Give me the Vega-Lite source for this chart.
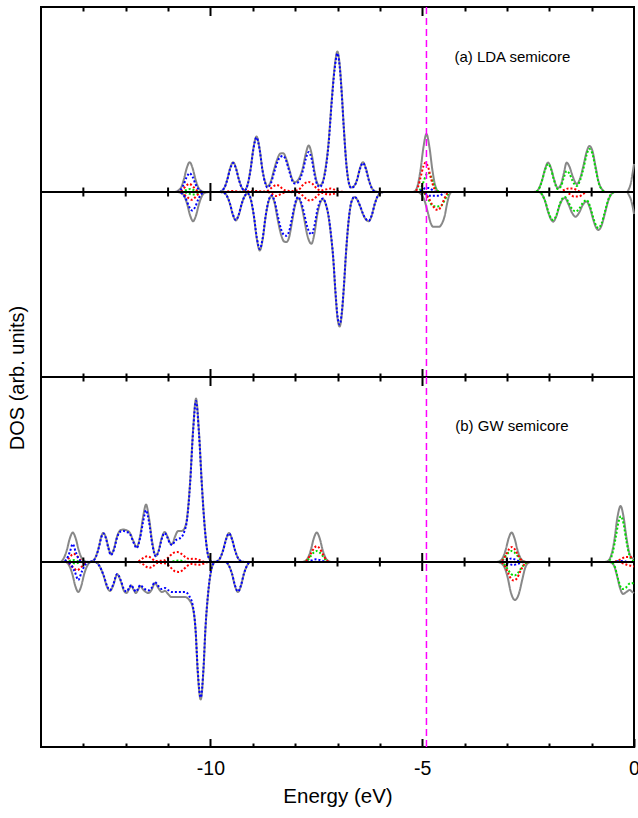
{
"$schema": "https://vega.github.io/schema/vega-lite/v6.json",
"padding": {"left": 7, "top": 5, "right": 2, "bottom": 4},
"background": "white",
"bounds": "flush",
"spacing": 0,
"config": {
  "view": {"stroke": "black", "strokeWidth": 2},
  "font": "Liberation Sans",
  "axis": {"grid": false, "domain": false, "tickColor": "black", "tickWidth": 2, "labelFont": "Liberation Sans", "titleFont": "Liberation Sans", "labelColor": "black", "titleColor": "black", "titleFontWeight": "normal"}
},
"datasets": {
"ticks": [{"e":-13},{"e":-12},{"e":-11},{"e":-10},{"e":-9},{"e":-8},{"e":-7},{"e":-6},{"e":-5},{"e":-4},{"e":-3},{"e":-2},{"e":-1}],
"a": [
{"s":"T","d":"u","e":-14,"v":0},{"s":"T","d":"u","e":-10.85,"v":0},{"s":"T","d":"u","e":-10.7,"v":4},{"s":"T","d":"u","e":-10.63,"v":12.2},{"s":"T","d":"u","e":-10.56,"v":23.8},{"s":"T","d":"u","e":-10.49,"v":29.8},{"s":"T","d":"u","e":-10.42,"v":23.8},{"s":"T","d":"u","e":-10.35,"v":12.2},{"s":"T","d":"u","e":-10.28,"v":4},{"s":"T","d":"u","e":-10.15,"v":0},
{"s":"T","d":"u","e":-9.8,"v":0},{"s":"T","d":"u","e":-9.675,"v":4},{"s":"T","d":"u","e":-9.605,"v":12.2},{"s":"T","d":"u","e":-9.535,"v":23.8},{"s":"T","d":"u","e":-9.465,"v":29.8},{"s":"T","d":"u","e":-9.395,"v":23.8},{"s":"T","d":"u","e":-9.325,"v":12.2},{"s":"T","d":"u","e":-9.255,"v":4},{"s":"T","d":"u","e":-9.19,"v":1.8},{"s":"T","d":"u","e":-9.123,"v":7.5},{"s":"T","d":"u","e":-9.053,"v":22.8},{"s":"T","d":"u","e":-8.983,"v":44.4},{"s":"T","d":"u","e":-8.913,"v":55.5},{"s":"T","d":"u","e":-8.843,"v":44.4},{"s":"T","d":"u","e":-8.773,"v":22.8},{"s":"T","d":"u","e":-8.7,"v":9},{"s":"T","d":"u","e":-8.66,"v":5.5},{"s":"T","d":"u","e":-8.57,"v":11},{"s":"T","d":"u","e":-8.5,"v":22},{"s":"T","d":"u","e":-8.42,"v":33},{"s":"T","d":"u","e":-8.35,"v":38.5},{"s":"T","d":"u","e":-8.28,"v":38.8},{"s":"T","d":"u","e":-8.21,"v":33},{"s":"T","d":"u","e":-8.14,"v":23},{"s":"T","d":"u","e":-8.06,"v":12},{"s":"T","d":"u","e":-8.01,"v":9.8},{"s":"T","d":"u","e":-7.95,"v":11},{"s":"T","d":"u","e":-7.89,"v":15},{"s":"T","d":"u","e":-7.82,"v":24},{"s":"T","d":"u","e":-7.75,"v":38},{"s":"T","d":"u","e":-7.68,"v":46.5},{"s":"T","d":"u","e":-7.61,"v":38},{"s":"T","d":"u","e":-7.54,"v":20},{"s":"T","d":"u","e":-7.48,"v":9},{"s":"T","d":"u","e":-7.42,"v":6.5},{"s":"T","d":"u","e":-7.36,"v":9},{"s":"T","d":"u","e":-7.29,"v":22},{"s":"T","d":"u","e":-7.21,"v":50},{"s":"T","d":"u","e":-7.14,"v":90},{"s":"T","d":"u","e":-7.07,"v":124},{"s":"T","d":"u","e":-7.003,"v":140.5},{"s":"T","d":"u","e":-6.95,"v":128},{"s":"T","d":"u","e":-6.9,"v":100},{"s":"T","d":"u","e":-6.85,"v":64},{"s":"T","d":"u","e":-6.79,"v":28},{"s":"T","d":"u","e":-6.73,"v":9},{"s":"T","d":"u","e":-6.68,"v":4.5},{"s":"T","d":"u","e":-6.61,"v":6},{"s":"T","d":"u","e":-6.54,"v":12.2},{"s":"T","d":"u","e":-6.47,"v":23.8},{"s":"T","d":"u","e":-6.4,"v":29.8},{"s":"T","d":"u","e":-6.33,"v":23.8},{"s":"T","d":"u","e":-6.26,"v":12.2},{"s":"T","d":"u","e":-6.19,"v":4},{"s":"T","d":"u","e":-6.1,"v":0.5},{"s":"T","d":"u","e":-6.0,"v":0},
{"s":"T","d":"u","e":-5.25,"v":0},{"s":"T","d":"u","e":-5.18,"v":0.5},{"s":"T","d":"u","e":-5.1,"v":7.8},{"s":"T","d":"u","e":-5.04,"v":22},{"s":"T","d":"u","e":-4.97,"v":45},{"s":"T","d":"u","e":-4.9,"v":58},{"s":"T","d":"u","e":-4.83,"v":45},{"s":"T","d":"u","e":-4.76,"v":22},{"s":"T","d":"u","e":-4.7,"v":7.8},{"s":"T","d":"u","e":-4.62,"v":0.5},{"s":"T","d":"u","e":-4.55,"v":0},
{"s":"T","d":"u","e":-2.4,"v":0},{"s":"T","d":"u","e":-2.3,"v":0.5},{"s":"T","d":"u","e":-2.24,"v":4},{"s":"T","d":"u","e":-2.17,"v":12},{"s":"T","d":"u","e":-2.1,"v":23},{"s":"T","d":"u","e":-2.03,"v":29.4},{"s":"T","d":"u","e":-1.96,"v":24},{"s":"T","d":"u","e":-1.89,"v":13},{"s":"T","d":"u","e":-1.8,"v":4},{"s":"T","d":"u","e":-1.72,"v":8},{"s":"T","d":"u","e":-1.66,"v":18},{"s":"T","d":"u","e":-1.59,"v":29.4},{"s":"T","d":"u","e":-1.52,"v":25},{"s":"T","d":"u","e":-1.45,"v":16},{"s":"T","d":"u","e":-1.35,"v":8},{"s":"T","d":"u","e":-1.27,"v":14},{"s":"T","d":"u","e":-1.19,"v":27},{"s":"T","d":"u","e":-1.12,"v":40},{"s":"T","d":"u","e":-1.05,"v":46},{"s":"T","d":"u","e":-0.98,"v":41},{"s":"T","d":"u","e":-0.91,"v":26},{"s":"T","d":"u","e":-0.84,"v":11},{"s":"T","d":"u","e":-0.76,"v":3},{"s":"T","d":"u","e":-0.66,"v":0},{"s":"T","d":"u","e":-0.17,"v":0},{"s":"T","d":"u","e":-0.12,"v":3},{"s":"T","d":"u","e":-0.08,"v":8},{"s":"T","d":"u","e":-0.04,"v":17},{"s":"T","d":"u","e":0,"v":28},
{"s":"T","d":"d","e":-14,"v":0},{"s":"T","d":"d","e":-10.8,"v":0},{"s":"T","d":"d","e":-10.71,"v":-0.5},{"s":"T","d":"d","e":-10.62,"v":-4},{"s":"T","d":"d","e":-10.55,"v":-12},{"s":"T","d":"d","e":-10.48,"v":-23.4},{"s":"T","d":"d","e":-10.41,"v":-29.2},{"s":"T","d":"d","e":-10.34,"v":-23.4},{"s":"T","d":"d","e":-10.27,"v":-12},{"s":"T","d":"d","e":-10.2,"v":-4},{"s":"T","d":"d","e":-10.11,"v":-0.5},{"s":"T","d":"d","e":-10.0,"v":0},
{"s":"T","d":"d","e":-9.78,"v":0},{"s":"T","d":"d","e":-9.7,"v":-0.5},{"s":"T","d":"d","e":-9.61,"v":-4},{"s":"T","d":"d","e":-9.54,"v":-11.7},{"s":"T","d":"d","e":-9.47,"v":-22.8},{"s":"T","d":"d","e":-9.4,"v":-28.5},{"s":"T","d":"d","e":-9.33,"v":-22.8},{"s":"T","d":"d","e":-9.26,"v":-11.7},{"s":"T","d":"d","e":-9.19,"v":-4},{"s":"T","d":"d","e":-9.12,"v":-1.5},{"s":"T","d":"d","e":-9.045,"v":-7.9},{"s":"T","d":"d","e":-8.975,"v":-24},{"s":"T","d":"d","e":-8.905,"v":-46.8},{"s":"T","d":"d","e":-8.835,"v":-58.5},{"s":"T","d":"d","e":-8.765,"v":-46.8},{"s":"T","d":"d","e":-8.695,"v":-24},{"s":"T","d":"d","e":-8.625,"v":-9},{"s":"T","d":"d","e":-8.56,"v":-4},{"s":"T","d":"d","e":-8.48,"v":-12},{"s":"T","d":"d","e":-8.41,"v":-28},{"s":"T","d":"d","e":-8.33,"v":-43},{"s":"T","d":"d","e":-8.26,"v":-49.5},{"s":"T","d":"d","e":-8.205,"v":-50},{"s":"T","d":"d","e":-8.14,"v":-45},{"s":"T","d":"d","e":-8.07,"v":-29},{"s":"T","d":"d","e":-8.0,"v":-13},{"s":"T","d":"d","e":-7.93,"v":-6},{"s":"T","d":"d","e":-7.86,"v":-12},{"s":"T","d":"d","e":-7.79,"v":-26},{"s":"T","d":"d","e":-7.72,"v":-42},{"s":"T","d":"d","e":-7.615,"v":-51.8},{"s":"T","d":"d","e":-7.545,"v":-41.5},{"s":"T","d":"d","e":-7.475,"v":-22},{"s":"T","d":"d","e":-7.4,"v":-10},{"s":"T","d":"d","e":-7.34,"v":-7},{"s":"T","d":"d","e":-7.28,"v":-12},{"s":"T","d":"d","e":-7.21,"v":-25},{"s":"T","d":"d","e":-7.15,"v":-45},{"s":"T","d":"d","e":-7.1,"v":-67},{"s":"T","d":"d","e":-7.05,"v":-100},{"s":"T","d":"d","e":-7.0,"v":-126},{"s":"T","d":"d","e":-6.95,"v":-134.5},{"s":"T","d":"d","e":-6.9,"v":-123},{"s":"T","d":"d","e":-6.85,"v":-96},{"s":"T","d":"d","e":-6.8,"v":-62},{"s":"T","d":"d","e":-6.74,"v":-30},{"s":"T","d":"d","e":-6.67,"v":-10},{"s":"T","d":"d","e":-6.595,"v":-5},{"s":"T","d":"d","e":-6.53,"v":-8},{"s":"T","d":"d","e":-6.46,"v":-15},{"s":"T","d":"d","e":-6.39,"v":-23},{"s":"T","d":"d","e":-6.32,"v":-28},{"s":"T","d":"d","e":-6.26,"v":-29.2},{"s":"T","d":"d","e":-6.19,"v":-23.4},{"s":"T","d":"d","e":-6.12,"v":-12},{"s":"T","d":"d","e":-6.05,"v":-4},{"s":"T","d":"d","e":-5.98,"v":-1},{"s":"T","d":"d","e":-5.9,"v":0},
{"s":"T","d":"d","e":-5.1,"v":0},{"s":"T","d":"d","e":-5.03,"v":-2},{"s":"T","d":"d","e":-4.95,"v":-8},{"s":"T","d":"d","e":-4.87,"v":-20},{"s":"T","d":"d","e":-4.8,"v":-31},{"s":"T","d":"d","e":-4.74,"v":-34.8},{"s":"T","d":"d","e":-4.6,"v":-34.8},{"s":"T","d":"d","e":-4.54,"v":-32},{"s":"T","d":"d","e":-4.47,"v":-24},{"s":"T","d":"d","e":-4.41,"v":-11},{"s":"T","d":"d","e":-4.36,"v":-3},{"s":"T","d":"d","e":-4.3,"v":0},
{"s":"T","d":"d","e":-2.25,"v":0},{"s":"T","d":"d","e":-2.18,"v":-2},{"s":"T","d":"d","e":-2.1,"v":-9},{"s":"T","d":"d","e":-2.02,"v":-21},{"s":"T","d":"d","e":-1.95,"v":-28},{"s":"T","d":"d","e":-1.91,"v":-29.7},{"s":"T","d":"d","e":-1.84,"v":-25},{"s":"T","d":"d","e":-1.76,"v":-14},{"s":"T","d":"d","e":-1.68,"v":-7},{"s":"T","d":"d","e":-1.63,"v":-6},{"s":"T","d":"d","e":-1.55,"v":-12},{"s":"T","d":"d","e":-1.46,"v":-21},{"s":"T","d":"d","e":-1.38,"v":-24.7},{"s":"T","d":"d","e":-1.3,"v":-21},{"s":"T","d":"d","e":-1.21,"v":-13},{"s":"T","d":"d","e":-1.12,"v":-9.5},{"s":"T","d":"d","e":-1.04,"v":-16},{"s":"T","d":"d","e":-0.96,"v":-28},{"s":"T","d":"d","e":-0.89,"v":-36},{"s":"T","d":"d","e":-0.84,"v":-38},{"s":"T","d":"d","e":-0.77,"v":-34},{"s":"T","d":"d","e":-0.69,"v":-22},{"s":"T","d":"d","e":-0.61,"v":-9},{"s":"T","d":"d","e":-0.53,"v":-2},{"s":"T","d":"d","e":-0.45,"v":0},{"s":"T","d":"d","e":-0.17,"v":0},{"s":"T","d":"d","e":-0.12,"v":-3},{"s":"T","d":"d","e":-0.07,"v":-8},{"s":"T","d":"d","e":-0.03,"v":-15},{"s":"T","d":"d","e":0,"v":-22},
{"s":"G","d":"u","e":-14,"v":0},{"s":"G","d":"u","e":-10.72,"v":0},{"s":"G","d":"u","e":-10.6,"v":1.5},{"s":"G","d":"u","e":-10.48,"v":3},{"s":"G","d":"u","e":-10.36,"v":1.5},{"s":"G","d":"u","e":-10.24,"v":0},{"s":"G","d":"u","e":-5.12,"v":0},{"s":"G","d":"u","e":-5.04,"v":3},{"s":"G","d":"u","e":-4.97,"v":10},{"s":"G","d":"u","e":-4.91,"v":17},{"s":"G","d":"u","e":-4.86,"v":19.3},{"s":"G","d":"u","e":-4.8,"v":16},{"s":"G","d":"u","e":-4.73,"v":8},{"s":"G","d":"u","e":-4.66,"v":2},{"s":"G","d":"u","e":-4.58,"v":0},
{"s":"G","d":"u","e":-2.35,"v":0},{"s":"G","d":"u","e":-2.26,"v":2},{"s":"G","d":"u","e":-2.18,"v":10},{"s":"G","d":"u","e":-2.1,"v":22},{"s":"G","d":"u","e":-2.03,"v":28},{"s":"G","d":"u","e":-1.96,"v":23},{"s":"G","d":"u","e":-1.89,"v":12},{"s":"G","d":"u","e":-1.8,"v":3},{"s":"G","d":"u","e":-1.72,"v":6},{"s":"G","d":"u","e":-1.66,"v":14},{"s":"G","d":"u","e":-1.59,"v":21},{"s":"G","d":"u","e":-1.52,"v":18},{"s":"G","d":"u","e":-1.45,"v":11},{"s":"G","d":"u","e":-1.35,"v":6},{"s":"G","d":"u","e":-1.27,"v":12},{"s":"G","d":"u","e":-1.19,"v":24},{"s":"G","d":"u","e":-1.12,"v":37},{"s":"G","d":"u","e":-1.05,"v":43},{"s":"G","d":"u","e":-0.98,"v":38},{"s":"G","d":"u","e":-0.91,"v":24},{"s":"G","d":"u","e":-0.84,"v":10},{"s":"G","d":"u","e":-0.76,"v":2.5},{"s":"G","d":"u","e":-0.66,"v":0},{"s":"G","d":"u","e":0,"v":0},
{"s":"G","d":"d","e":-14,"v":0},{"s":"G","d":"d","e":-10.65,"v":0},{"s":"G","d":"d","e":-10.52,"v":-1.5},{"s":"G","d":"d","e":-10.42,"v":-2.5},{"s":"G","d":"d","e":-10.32,"v":-1.5},{"s":"G","d":"d","e":-10.2,"v":0},{"s":"G","d":"d","e":-5.0,"v":0},{"s":"G","d":"d","e":-4.92,"v":-3},{"s":"G","d":"d","e":-4.84,"v":-8.5},{"s":"G","d":"d","e":-4.76,"v":-13.5},{"s":"G","d":"d","e":-4.66,"v":-14.5},{"s":"G","d":"d","e":-4.56,"v":-14},{"s":"G","d":"d","e":-4.48,"v":-9},{"s":"G","d":"d","e":-4.41,"v":-3.5},{"s":"G","d":"d","e":-4.34,"v":0},
{"s":"G","d":"d","e":-2.25,"v":0},{"s":"G","d":"d","e":-2.18,"v":-2},{"s":"G","d":"d","e":-2.1,"v":-9},{"s":"G","d":"d","e":-2.02,"v":-20},{"s":"G","d":"d","e":-1.95,"v":-27},{"s":"G","d":"d","e":-1.91,"v":-28},{"s":"G","d":"d","e":-1.84,"v":-24},{"s":"G","d":"d","e":-1.76,"v":-13},{"s":"G","d":"d","e":-1.68,"v":-6},{"s":"G","d":"d","e":-1.63,"v":-5},{"s":"G","d":"d","e":-1.55,"v":-10},{"s":"G","d":"d","e":-1.46,"v":-17},{"s":"G","d":"d","e":-1.38,"v":-19.5},{"s":"G","d":"d","e":-1.3,"v":-17},{"s":"G","d":"d","e":-1.21,"v":-11},{"s":"G","d":"d","e":-1.12,"v":-8},{"s":"G","d":"d","e":-1.04,"v":-14},{"s":"G","d":"d","e":-0.96,"v":-26},{"s":"G","d":"d","e":-0.89,"v":-34},{"s":"G","d":"d","e":-0.84,"v":-36},{"s":"G","d":"d","e":-0.77,"v":-32},{"s":"G","d":"d","e":-0.69,"v":-20},{"s":"G","d":"d","e":-0.61,"v":-8},{"s":"G","d":"d","e":-0.53,"v":-1.5},{"s":"G","d":"d","e":-0.45,"v":0},{"s":"G","d":"d","e":0,"v":0},
{"s":"R","d":"u","e":-14,"v":0},{"s":"R","d":"u","e":-10.78,"v":0},{"s":"R","d":"u","e":-10.68,"v":1.5},{"s":"R","d":"u","e":-10.6,"v":5},{"s":"R","d":"u","e":-10.5,"v":8.2},{"s":"R","d":"u","e":-10.4,"v":5},{"s":"R","d":"u","e":-10.32,"v":1.5},{"s":"R","d":"u","e":-10.22,"v":0},{"s":"R","d":"u","e":-9.7,"v":0},{"s":"R","d":"u","e":-9.5,"v":1},{"s":"R","d":"u","e":-9.3,"v":0.3},{"s":"R","d":"u","e":-8.95,"v":1},{"s":"R","d":"u","e":-8.7,"v":0.5},{"s":"R","d":"u","e":-8.62,"v":2},{"s":"R","d":"u","e":-8.52,"v":5.5},{"s":"R","d":"u","e":-8.44,"v":7},{"s":"R","d":"u","e":-8.36,"v":5.5},{"s":"R","d":"u","e":-8.26,"v":2},{"s":"R","d":"u","e":-8.1,"v":1},{"s":"R","d":"u","e":-7.92,"v":2},{"s":"R","d":"u","e":-7.84,"v":6},{"s":"R","d":"u","e":-7.76,"v":9},{"s":"R","d":"u","e":-7.68,"v":10},{"s":"R","d":"u","e":-7.6,"v":8.5},{"s":"R","d":"u","e":-7.5,"v":4},{"s":"R","d":"u","e":-7.4,"v":1.5},{"s":"R","d":"u","e":-7.28,"v":2.5},{"s":"R","d":"u","e":-7.16,"v":3.5},{"s":"R","d":"u","e":-7.05,"v":2},{"s":"R","d":"u","e":-6.95,"v":0.5},{"s":"R","d":"u","e":-6.8,"v":0},
{"s":"R","d":"u","e":-5.18,"v":0},{"s":"R","d":"u","e":-5.1,"v":5},{"s":"R","d":"u","e":-5.03,"v":16},{"s":"R","d":"u","e":-4.97,"v":26},{"s":"R","d":"u","e":-4.92,"v":29.4},{"s":"R","d":"u","e":-4.86,"v":25},{"s":"R","d":"u","e":-4.79,"v":13},{"s":"R","d":"u","e":-4.72,"v":4},{"s":"R","d":"u","e":-4.64,"v":0},{"s":"R","d":"u","e":-1.75,"v":0},{"s":"R","d":"u","e":-1.65,"v":2},{"s":"R","d":"u","e":-1.55,"v":3.5},{"s":"R","d":"u","e":-1.45,"v":3.5},{"s":"R","d":"u","e":-1.35,"v":2},{"s":"R","d":"u","e":-1.25,"v":0},{"s":"R","d":"u","e":0,"v":0},
{"s":"R","d":"d","e":-14,"v":0},{"s":"R","d":"d","e":-10.75,"v":0},{"s":"R","d":"d","e":-10.65,"v":-1.5},{"s":"R","d":"d","e":-10.55,"v":-5},{"s":"R","d":"d","e":-10.45,"v":-7.8},{"s":"R","d":"d","e":-10.35,"v":-5},{"s":"R","d":"d","e":-10.27,"v":-1.5},{"s":"R","d":"d","e":-10.17,"v":0},{"s":"R","d":"d","e":-8.65,"v":0},{"s":"R","d":"d","e":-8.55,"v":-2},{"s":"R","d":"d","e":-8.45,"v":-4},{"s":"R","d":"d","e":-8.33,"v":-2},{"s":"R","d":"d","e":-8.2,"v":0},{"s":"R","d":"d","e":-7.9,"v":-1},{"s":"R","d":"d","e":-7.8,"v":-4.5},{"s":"R","d":"d","e":-7.72,"v":-7.5},{"s":"R","d":"d","e":-7.64,"v":-8.5},{"s":"R","d":"d","e":-7.56,"v":-7},{"s":"R","d":"d","e":-7.46,"v":-3},{"s":"R","d":"d","e":-7.36,"v":-1},{"s":"R","d":"d","e":-7.22,"v":-2.5},{"s":"R","d":"d","e":-7.1,"v":-2},{"s":"R","d":"d","e":-6.98,"v":0},
{"s":"R","d":"d","e":-5.0,"v":0},{"s":"R","d":"d","e":-4.92,"v":-2},{"s":"R","d":"d","e":-4.84,"v":-6.5},{"s":"R","d":"d","e":-4.76,"v":-13},{"s":"R","d":"d","e":-4.68,"v":-17.5},{"s":"R","d":"d","e":-4.62,"v":-17.9},{"s":"R","d":"d","e":-4.55,"v":-14},{"s":"R","d":"d","e":-4.48,"v":-7},{"s":"R","d":"d","e":-4.42,"v":-2},{"s":"R","d":"d","e":-4.36,"v":0},{"s":"R","d":"d","e":-1.6,"v":0},{"s":"R","d":"d","e":-1.52,"v":-2},{"s":"R","d":"d","e":-1.42,"v":-4.4},{"s":"R","d":"d","e":-1.3,"v":-4.4},{"s":"R","d":"d","e":-1.2,"v":-2},{"s":"R","d":"d","e":-1.1,"v":0},{"s":"R","d":"d","e":0,"v":0},
{"s":"B","d":"u","e":-14,"v":0},{"s":"B","d":"u","e":-10.8,"v":0},{"s":"B","d":"u","e":-10.7,"v":2.5},{"s":"B","d":"u","e":-10.63,"v":7.7},{"s":"B","d":"u","e":-10.56,"v":15},{"s":"B","d":"u","e":-10.49,"v":18.8},{"s":"B","d":"u","e":-10.42,"v":15},{"s":"B","d":"u","e":-10.35,"v":7.7},{"s":"B","d":"u","e":-10.28,"v":2.5},{"s":"B","d":"u","e":-10.18,"v":0},
{"s":"B","d":"u","e":-9.8,"v":0},{"s":"B","d":"u","e":-9.675,"v":3.8},{"s":"B","d":"u","e":-9.605,"v":11.8},{"s":"B","d":"u","e":-9.535,"v":23},{"s":"B","d":"u","e":-9.465,"v":29},{"s":"B","d":"u","e":-9.395,"v":23},{"s":"B","d":"u","e":-9.325,"v":11.8},{"s":"B","d":"u","e":-9.255,"v":3.8},{"s":"B","d":"u","e":-9.19,"v":1.5},{"s":"B","d":"u","e":-9.123,"v":7},{"s":"B","d":"u","e":-9.053,"v":22},{"s":"B","d":"u","e":-8.983,"v":43.5},{"s":"B","d":"u","e":-8.913,"v":54.5},{"s":"B","d":"u","e":-8.843,"v":43.5},{"s":"B","d":"u","e":-8.773,"v":22},{"s":"B","d":"u","e":-8.7,"v":8},{"s":"B","d":"u","e":-8.66,"v":4.5},{"s":"B","d":"u","e":-8.57,"v":9},{"s":"B","d":"u","e":-8.5,"v":19},{"s":"B","d":"u","e":-8.42,"v":30},{"s":"B","d":"u","e":-8.35,"v":35},{"s":"B","d":"u","e":-8.28,"v":36},{"s":"B","d":"u","e":-8.21,"v":31},{"s":"B","d":"u","e":-8.14,"v":21},{"s":"B","d":"u","e":-8.06,"v":10.5},{"s":"B","d":"u","e":-8.01,"v":8.5},{"s":"B","d":"u","e":-7.95,"v":9},{"s":"B","d":"u","e":-7.89,"v":12.5},{"s":"B","d":"u","e":-7.82,"v":21},{"s":"B","d":"u","e":-7.75,"v":33},{"s":"B","d":"u","e":-7.68,"v":40},{"s":"B","d":"u","e":-7.61,"v":33},{"s":"B","d":"u","e":-7.54,"v":17},{"s":"B","d":"u","e":-7.48,"v":7.5},{"s":"B","d":"u","e":-7.42,"v":5},{"s":"B","d":"u","e":-7.36,"v":8},{"s":"B","d":"u","e":-7.29,"v":20},{"s":"B","d":"u","e":-7.21,"v":48},{"s":"B","d":"u","e":-7.14,"v":88},{"s":"B","d":"u","e":-7.07,"v":122},{"s":"B","d":"u","e":-7.003,"v":138.5},{"s":"B","d":"u","e":-6.95,"v":126},{"s":"B","d":"u","e":-6.9,"v":98},{"s":"B","d":"u","e":-6.85,"v":63},{"s":"B","d":"u","e":-6.79,"v":27},{"s":"B","d":"u","e":-6.73,"v":8.5},{"s":"B","d":"u","e":-6.68,"v":4},{"s":"B","d":"u","e":-6.61,"v":5.5},{"s":"B","d":"u","e":-6.54,"v":11.8},{"s":"B","d":"u","e":-6.47,"v":23},{"s":"B","d":"u","e":-6.4,"v":29},{"s":"B","d":"u","e":-6.33,"v":23},{"s":"B","d":"u","e":-6.26,"v":11.8},{"s":"B","d":"u","e":-6.19,"v":3.8},{"s":"B","d":"u","e":-6.1,"v":0.5},{"s":"B","d":"u","e":-6.0,"v":0},
{"s":"B","d":"u","e":-5.1,"v":0},{"s":"B","d":"u","e":-5.0,"v":2},{"s":"B","d":"u","e":-4.92,"v":4},{"s":"B","d":"u","e":-4.84,"v":4},{"s":"B","d":"u","e":-4.76,"v":2},{"s":"B","d":"u","e":-4.65,"v":0},{"s":"B","d":"u","e":0,"v":0},
{"s":"B","d":"d","e":-14,"v":0},{"s":"B","d":"d","e":-10.75,"v":0},{"s":"B","d":"d","e":-10.65,"v":-2.5},{"s":"B","d":"d","e":-10.57,"v":-7.6},{"s":"B","d":"d","e":-10.5,"v":-15},{"s":"B","d":"d","e":-10.43,"v":-18.5},{"s":"B","d":"d","e":-10.36,"v":-15},{"s":"B","d":"d","e":-10.29,"v":-7.6},{"s":"B","d":"d","e":-10.22,"v":-2.5},{"s":"B","d":"d","e":-10.12,"v":0},
{"s":"B","d":"d","e":-9.78,"v":0},{"s":"B","d":"d","e":-9.7,"v":-0.5},{"s":"B","d":"d","e":-9.61,"v":-4},{"s":"B","d":"d","e":-9.54,"v":-11.5},{"s":"B","d":"d","e":-9.47,"v":-22.4},{"s":"B","d":"d","e":-9.4,"v":-28},{"s":"B","d":"d","e":-9.33,"v":-22.4},{"s":"B","d":"d","e":-9.26,"v":-11.5},{"s":"B","d":"d","e":-9.19,"v":-4},{"s":"B","d":"d","e":-9.12,"v":-1.4},{"s":"B","d":"d","e":-9.045,"v":-7.6},{"s":"B","d":"d","e":-8.975,"v":-23.5},{"s":"B","d":"d","e":-8.905,"v":-45.8},{"s":"B","d":"d","e":-8.835,"v":-57},{"s":"B","d":"d","e":-8.765,"v":-45.8},{"s":"B","d":"d","e":-8.695,"v":-23.5},{"s":"B","d":"d","e":-8.625,"v":-8.5},{"s":"B","d":"d","e":-8.56,"v":-3.5},{"s":"B","d":"d","e":-8.48,"v":-10},{"s":"B","d":"d","e":-8.41,"v":-24},{"s":"B","d":"d","e":-8.33,"v":-37.5},{"s":"B","d":"d","e":-8.26,"v":-43},{"s":"B","d":"d","e":-8.205,"v":-43.8},{"s":"B","d":"d","e":-8.14,"v":-39},{"s":"B","d":"d","e":-8.07,"v":-25},{"s":"B","d":"d","e":-8.0,"v":-11},{"s":"B","d":"d","e":-7.93,"v":-5},{"s":"B","d":"d","e":-7.86,"v":-10},{"s":"B","d":"d","e":-7.79,"v":-21},{"s":"B","d":"d","e":-7.72,"v":-34},{"s":"B","d":"d","e":-7.615,"v":-42.5},{"s":"B","d":"d","e":-7.545,"v":-34},{"s":"B","d":"d","e":-7.475,"v":-18},{"s":"B","d":"d","e":-7.4,"v":-8.5},{"s":"B","d":"d","e":-7.34,"v":-6.5},{"s":"B","d":"d","e":-7.28,"v":-11.5},{"s":"B","d":"d","e":-7.21,"v":-24},{"s":"B","d":"d","e":-7.15,"v":-44},{"s":"B","d":"d","e":-7.1,"v":-66},{"s":"B","d":"d","e":-7.05,"v":-98.5},{"s":"B","d":"d","e":-7.0,"v":-124},{"s":"B","d":"d","e":-6.95,"v":-132.5},{"s":"B","d":"d","e":-6.9,"v":-121},{"s":"B","d":"d","e":-6.85,"v":-94.5},{"s":"B","d":"d","e":-6.8,"v":-61},{"s":"B","d":"d","e":-6.74,"v":-29.5},{"s":"B","d":"d","e":-6.67,"v":-9.5},{"s":"B","d":"d","e":-6.595,"v":-4.8},{"s":"B","d":"d","e":-6.53,"v":-7.8},{"s":"B","d":"d","e":-6.46,"v":-14.7},{"s":"B","d":"d","e":-6.39,"v":-22.6},{"s":"B","d":"d","e":-6.32,"v":-27.5},{"s":"B","d":"d","e":-6.26,"v":-28.7},{"s":"B","d":"d","e":-6.19,"v":-23},{"s":"B","d":"d","e":-6.12,"v":-11.8},{"s":"B","d":"d","e":-6.05,"v":-4},{"s":"B","d":"d","e":-5.98,"v":-1},{"s":"B","d":"d","e":-5.9,"v":0},
{"s":"B","d":"d","e":-5.0,"v":0},{"s":"B","d":"d","e":-4.92,"v":-2},{"s":"B","d":"d","e":-4.84,"v":-3.7},{"s":"B","d":"d","e":-4.6,"v":-3.7},{"s":"B","d":"d","e":-4.52,"v":-2},{"s":"B","d":"d","e":-4.45,"v":0},{"s":"B","d":"d","e":0,"v":0}
],
"b": [
{"s":"T","d":"u","e":-14,"v":0},{"s":"T","d":"u","e":-13.55,"v":0},{"s":"T","d":"u","e":-13.46,"v":4},{"s":"T","d":"u","e":-13.39,"v":12},{"s":"T","d":"u","e":-13.32,"v":23.5},{"s":"T","d":"u","e":-13.25,"v":29.4},{"s":"T","d":"u","e":-13.18,"v":23.5},{"s":"T","d":"u","e":-13.11,"v":12},{"s":"T","d":"u","e":-13.04,"v":4},{"s":"T","d":"u","e":-12.95,"v":0.5},{"s":"T","d":"u","e":-12.88,"v":0},
{"s":"T","d":"u","e":-12.78,"v":1},{"s":"T","d":"u","e":-12.7,"v":6},{"s":"T","d":"u","e":-12.63,"v":16},{"s":"T","d":"u","e":-12.58,"v":25},{"s":"T","d":"u","e":-12.53,"v":29},{"s":"T","d":"u","e":-12.47,"v":25},{"s":"T","d":"u","e":-12.41,"v":15},{"s":"T","d":"u","e":-12.35,"v":7.7},{"s":"T","d":"u","e":-12.28,"v":13},{"s":"T","d":"u","e":-12.2,"v":26},{"s":"T","d":"u","e":-12.12,"v":32},{"s":"T","d":"u","e":-12.05,"v":32.4},{"s":"T","d":"u","e":-11.97,"v":31.5},{"s":"T","d":"u","e":-11.9,"v":29},{"s":"T","d":"u","e":-11.82,"v":21},{"s":"T","d":"u","e":-11.74,"v":15},{"s":"T","d":"u","e":-11.66,"v":26},{"s":"T","d":"u","e":-11.59,"v":45},{"s":"T","d":"u","e":-11.52,"v":57.4},{"s":"T","d":"u","e":-11.45,"v":44},{"s":"T","d":"u","e":-11.37,"v":19},{"s":"T","d":"u","e":-11.29,"v":6},{"s":"T","d":"u","e":-11.22,"v":12},{"s":"T","d":"u","e":-11.15,"v":24},{"s":"T","d":"u","e":-11.08,"v":30},{"s":"T","d":"u","e":-11.01,"v":25},{"s":"T","d":"u","e":-10.95,"v":19},{"s":"T","d":"u","e":-10.9,"v":18},{"s":"T","d":"u","e":-10.84,"v":25},{"s":"T","d":"u","e":-10.76,"v":31},{"s":"T","d":"u","e":-10.68,"v":31},{"s":"T","d":"u","e":-10.62,"v":33},{"s":"T","d":"u","e":-10.55,"v":45},{"s":"T","d":"u","e":-10.48,"v":80},{"s":"T","d":"u","e":-10.41,"v":132},{"s":"T","d":"u","e":-10.34,"v":163.4},{"s":"T","d":"u","e":-10.27,"v":130},{"s":"T","d":"u","e":-10.2,"v":76},{"s":"T","d":"u","e":-10.13,"v":33},{"s":"T","d":"u","e":-10.07,"v":10},{"s":"T","d":"u","e":-10.01,"v":2},{"s":"T","d":"u","e":-9.95,"v":0},
{"s":"T","d":"u","e":-9.86,"v":0.5},{"s":"T","d":"u","e":-9.77,"v":4},{"s":"T","d":"u","e":-9.7,"v":12},{"s":"T","d":"u","e":-9.63,"v":23},{"s":"T","d":"u","e":-9.56,"v":29},{"s":"T","d":"u","e":-9.49,"v":23},{"s":"T","d":"u","e":-9.42,"v":12},{"s":"T","d":"u","e":-9.35,"v":4},{"s":"T","d":"u","e":-9.26,"v":0.5},{"s":"T","d":"u","e":-9.2,"v":0},
{"s":"T","d":"u","e":-7.85,"v":0},{"s":"T","d":"u","e":-7.79,"v":0.5},{"s":"T","d":"u","e":-7.7,"v":4},{"s":"T","d":"u","e":-7.63,"v":12},{"s":"T","d":"u","e":-7.56,"v":23.6},{"s":"T","d":"u","e":-7.49,"v":29.5},{"s":"T","d":"u","e":-7.42,"v":23.6},{"s":"T","d":"u","e":-7.35,"v":12},{"s":"T","d":"u","e":-7.28,"v":4},{"s":"T","d":"u","e":-7.19,"v":0.5},{"s":"T","d":"u","e":-7.12,"v":0},
{"s":"T","d":"u","e":-3.25,"v":0},{"s":"T","d":"u","e":-3.19,"v":0.5},{"s":"T","d":"u","e":-3.1,"v":4},{"s":"T","d":"u","e":-3.03,"v":12},{"s":"T","d":"u","e":-2.96,"v":23.6},{"s":"T","d":"u","e":-2.89,"v":29.5},{"s":"T","d":"u","e":-2.82,"v":23.6},{"s":"T","d":"u","e":-2.75,"v":12},{"s":"T","d":"u","e":-2.68,"v":4},{"s":"T","d":"u","e":-2.59,"v":0.5},{"s":"T","d":"u","e":-2.52,"v":0},
{"s":"T","d":"u","e":-0.7,"v":0},{"s":"T","d":"u","e":-0.62,"v":1},{"s":"T","d":"u","e":-0.53,"v":8},{"s":"T","d":"u","e":-0.46,"v":23},{"s":"T","d":"u","e":-0.39,"v":45},{"s":"T","d":"u","e":-0.316,"v":56},{"s":"T","d":"u","e":-0.25,"v":46},{"s":"T","d":"u","e":-0.18,"v":25},{"s":"T","d":"u","e":-0.11,"v":9},{"s":"T","d":"u","e":-0.05,"v":4},{"s":"T","d":"u","e":0,"v":3.5},
{"s":"T","d":"d","e":-14,"v":0},{"s":"T","d":"d","e":-13.42,"v":0},{"s":"T","d":"d","e":-13.33,"v":-4},{"s":"T","d":"d","e":-13.26,"v":-12},{"s":"T","d":"d","e":-13.19,"v":-24},{"s":"T","d":"d","e":-13.12,"v":-30},{"s":"T","d":"d","e":-13.05,"v":-24},{"s":"T","d":"d","e":-12.98,"v":-12},{"s":"T","d":"d","e":-12.91,"v":-4},{"s":"T","d":"d","e":-12.82,"v":0},
{"s":"T","d":"d","e":-12.72,"v":0},{"s":"T","d":"d","e":-12.62,"v":-4},{"s":"T","d":"d","e":-12.52,"v":-14},{"s":"T","d":"d","e":-12.44,"v":-25},{"s":"T","d":"d","e":-12.37,"v":-29},{"s":"T","d":"d","e":-12.3,"v":-24},{"s":"T","d":"d","e":-12.2,"v":-12.3},{"s":"T","d":"d","e":-12.11,"v":-20},{"s":"T","d":"d","e":-12.04,"v":-29},{"s":"T","d":"d","e":-11.98,"v":-31},{"s":"T","d":"d","e":-11.92,"v":-27},{"s":"T","d":"d","e":-11.87,"v":-23.5},{"s":"T","d":"d","e":-11.81,"v":-28},{"s":"T","d":"d","e":-11.76,"v":-31},{"s":"T","d":"d","e":-11.71,"v":-28},{"s":"T","d":"d","e":-11.66,"v":-24},{"s":"T","d":"d","e":-11.58,"v":-28},{"s":"T","d":"d","e":-11.47,"v":-31},{"s":"T","d":"d","e":-11.39,"v":-28},{"s":"T","d":"d","e":-11.31,"v":-21},{"s":"T","d":"d","e":-11.23,"v":-26},{"s":"T","d":"d","e":-11.15,"v":-30},{"s":"T","d":"d","e":-11.07,"v":-29},{"s":"T","d":"d","e":-11.0,"v":-32},{"s":"T","d":"d","e":-10.92,"v":-35},{"s":"T","d":"d","e":-10.76,"v":-35},{"s":"T","d":"d","e":-10.6,"v":-35},{"s":"T","d":"d","e":-10.5,"v":-38},{"s":"T","d":"d","e":-10.42,"v":-45},{"s":"T","d":"d","e":-10.35,"v":-69},{"s":"T","d":"d","e":-10.3,"v":-110},{"s":"T","d":"d","e":-10.23,"v":-137.6},{"s":"T","d":"d","e":-10.16,"v":-105},{"s":"T","d":"d","e":-10.12,"v":-69},{"s":"T","d":"d","e":-10.05,"v":-30},{"s":"T","d":"d","e":-9.98,"v":-8},{"s":"T","d":"d","e":-9.92,"v":-1},{"s":"T","d":"d","e":-9.88,"v":0},
{"s":"T","d":"d","e":-9.65,"v":0},{"s":"T","d":"d","e":-9.56,"v":-4},{"s":"T","d":"d","e":-9.49,"v":-12},{"s":"T","d":"d","e":-9.42,"v":-24},{"s":"T","d":"d","e":-9.35,"v":-30},{"s":"T","d":"d","e":-9.28,"v":-24},{"s":"T","d":"d","e":-9.21,"v":-12},{"s":"T","d":"d","e":-9.14,"v":-4},{"s":"T","d":"d","e":-9.05,"v":0},
{"s":"T","d":"d","e":-3.22,"v":0},{"s":"T","d":"d","e":-3.15,"v":-1},{"s":"T","d":"d","e":-3.05,"v":-6},{"s":"T","d":"d","e":-2.98,"v":-16},{"s":"T","d":"d","e":-2.91,"v":-30},{"s":"T","d":"d","e":-2.81,"v":-38},{"s":"T","d":"d","e":-2.72,"v":-32},{"s":"T","d":"d","e":-2.64,"v":-18},{"s":"T","d":"d","e":-2.57,"v":-6},{"s":"T","d":"d","e":-2.48,"v":-0.5},{"s":"T","d":"d","e":-2.42,"v":0},
{"s":"T","d":"d","e":-0.58,"v":0},{"s":"T","d":"d","e":-0.48,"v":-3},{"s":"T","d":"d","e":-0.4,"v":-14},{"s":"T","d":"d","e":-0.33,"v":-26},{"s":"T","d":"d","e":-0.26,"v":-32},{"s":"T","d":"d","e":-0.18,"v":-30},{"s":"T","d":"d","e":-0.1,"v":-28},{"s":"T","d":"d","e":-0.04,"v":-30},{"s":"T","d":"d","e":0,"v":-31},
{"s":"G","d":"u","e":-14,"v":0},{"s":"G","d":"u","e":-13.45,"v":0},{"s":"G","d":"u","e":-13.35,"v":1},{"s":"G","d":"u","e":-13.25,"v":2},{"s":"G","d":"u","e":-13.15,"v":1},{"s":"G","d":"u","e":-13.05,"v":0},{"s":"G","d":"u","e":-10.95,"v":0},{"s":"G","d":"u","e":-10.85,"v":1},{"s":"G","d":"u","e":-10.75,"v":1.5},{"s":"G","d":"u","e":-10.65,"v":1},{"s":"G","d":"u","e":-10.55,"v":0},
{"s":"G","d":"u","e":-7.78,"v":0},{"s":"G","d":"u","e":-7.7,"v":2},{"s":"G","d":"u","e":-7.63,"v":6},{"s":"G","d":"u","e":-7.56,"v":9.5},{"s":"G","d":"u","e":-7.49,"v":11},{"s":"G","d":"u","e":-7.42,"v":9.5},{"s":"G","d":"u","e":-7.35,"v":6},{"s":"G","d":"u","e":-7.28,"v":2},{"s":"G","d":"u","e":-7.2,"v":0},
{"s":"G","d":"u","e":-3.18,"v":0},{"s":"G","d":"u","e":-3.1,"v":2},{"s":"G","d":"u","e":-3.03,"v":6},{"s":"G","d":"u","e":-2.96,"v":9.5},{"s":"G","d":"u","e":-2.89,"v":11},{"s":"G","d":"u","e":-2.82,"v":9.5},{"s":"G","d":"u","e":-2.75,"v":6},{"s":"G","d":"u","e":-2.68,"v":2},{"s":"G","d":"u","e":-2.6,"v":0},
{"s":"G","d":"u","e":-0.65,"v":0},{"s":"G","d":"u","e":-0.57,"v":2},{"s":"G","d":"u","e":-0.5,"v":10},{"s":"G","d":"u","e":-0.43,"v":25},{"s":"G","d":"u","e":-0.36,"v":41},{"s":"G","d":"u","e":-0.31,"v":45.8},{"s":"G","d":"u","e":-0.25,"v":39},{"s":"G","d":"u","e":-0.18,"v":21},{"s":"G","d":"u","e":-0.11,"v":7},{"s":"G","d":"u","e":-0.05,"v":2},{"s":"G","d":"u","e":0,"v":1},
{"s":"G","d":"d","e":-14,"v":0},{"s":"G","d":"d","e":-13.35,"v":0},{"s":"G","d":"d","e":-13.2,"v":-1.5},{"s":"G","d":"d","e":-13.05,"v":0},{"s":"G","d":"d","e":-3.15,"v":0},{"s":"G","d":"d","e":-3.05,"v":-3},{"s":"G","d":"d","e":-2.97,"v":-8},{"s":"G","d":"d","e":-2.9,"v":-12},{"s":"G","d":"d","e":-2.82,"v":-13.5},{"s":"G","d":"d","e":-2.74,"v":-11},{"s":"G","d":"d","e":-2.66,"v":-6},{"s":"G","d":"d","e":-2.58,"v":-2},{"s":"G","d":"d","e":-2.5,"v":0},
{"s":"G","d":"d","e":-0.55,"v":0},{"s":"G","d":"d","e":-0.45,"v":-5},{"s":"G","d":"d","e":-0.37,"v":-18},{"s":"G","d":"d","e":-0.28,"v":-27},{"s":"G","d":"d","e":-0.2,"v":-26},{"s":"G","d":"d","e":-0.12,"v":-22},{"s":"G","d":"d","e":-0.05,"v":-21},{"s":"G","d":"d","e":0,"v":-22},
{"s":"R","d":"u","e":-14,"v":0},{"s":"R","d":"u","e":-13.48,"v":0},{"s":"R","d":"u","e":-13.38,"v":2},{"s":"R","d":"u","e":-13.3,"v":6},{"s":"R","d":"u","e":-13.23,"v":8.3},{"s":"R","d":"u","e":-13.15,"v":6},{"s":"R","d":"u","e":-13.07,"v":2},{"s":"R","d":"u","e":-12.98,"v":0},
{"s":"R","d":"u","e":-11.75,"v":0},{"s":"R","d":"u","e":-11.65,"v":2},{"s":"R","d":"u","e":-11.55,"v":5},{"s":"R","d":"u","e":-11.48,"v":5.7},{"s":"R","d":"u","e":-11.4,"v":4},{"s":"R","d":"u","e":-11.3,"v":1},{"s":"R","d":"u","e":-11.1,"v":1.5},{"s":"R","d":"u","e":-10.98,"v":5},{"s":"R","d":"u","e":-10.88,"v":9},{"s":"R","d":"u","e":-10.78,"v":10},{"s":"R","d":"u","e":-10.68,"v":8},{"s":"R","d":"u","e":-10.58,"v":4.5},{"s":"R","d":"u","e":-10.48,"v":3},{"s":"R","d":"u","e":-10.38,"v":3.3},{"s":"R","d":"u","e":-10.26,"v":2},{"s":"R","d":"u","e":-10.12,"v":0},
{"s":"R","d":"u","e":-7.8,"v":0},{"s":"R","d":"u","e":-7.7,"v":3},{"s":"R","d":"u","e":-7.62,"v":9},{"s":"R","d":"u","e":-7.55,"v":14},{"s":"R","d":"u","e":-7.49,"v":15.8},{"s":"R","d":"u","e":-7.42,"v":13.5},{"s":"R","d":"u","e":-7.35,"v":8},{"s":"R","d":"u","e":-7.27,"v":2.5},{"s":"R","d":"u","e":-7.18,"v":0},
{"s":"R","d":"u","e":-3.18,"v":0},{"s":"R","d":"u","e":-3.08,"v":3},{"s":"R","d":"u","e":-3.0,"v":9},{"s":"R","d":"u","e":-2.94,"v":13.5},{"s":"R","d":"u","e":-2.88,"v":15},{"s":"R","d":"u","e":-2.81,"v":12.5},{"s":"R","d":"u","e":-2.74,"v":7},{"s":"R","d":"u","e":-2.66,"v":2},{"s":"R","d":"u","e":-2.56,"v":0},
{"s":"R","d":"u","e":-0.5,"v":0},{"s":"R","d":"u","e":-0.4,"v":1},{"s":"R","d":"u","e":-0.3,"v":3},{"s":"R","d":"u","e":-0.2,"v":5},{"s":"R","d":"u","e":-0.1,"v":5},{"s":"R","d":"u","e":0,"v":4},
{"s":"R","d":"d","e":-14,"v":0},{"s":"R","d":"d","e":-13.42,"v":0},{"s":"R","d":"d","e":-13.32,"v":-2},{"s":"R","d":"d","e":-13.23,"v":-6},{"s":"R","d":"d","e":-13.15,"v":-8.3},{"s":"R","d":"d","e":-13.07,"v":-6},{"s":"R","d":"d","e":-12.98,"v":-2},{"s":"R","d":"d","e":-12.9,"v":0},
{"s":"R","d":"d","e":-11.7,"v":0},{"s":"R","d":"d","e":-11.6,"v":-2},{"s":"R","d":"d","e":-11.5,"v":-5},{"s":"R","d":"d","e":-11.43,"v":-5.7},{"s":"R","d":"d","e":-11.35,"v":-4},{"s":"R","d":"d","e":-11.25,"v":-1},{"s":"R","d":"d","e":-11.05,"v":-1.5},{"s":"R","d":"d","e":-10.95,"v":-5},{"s":"R","d":"d","e":-10.85,"v":-9},{"s":"R","d":"d","e":-10.75,"v":-10},{"s":"R","d":"d","e":-10.65,"v":-8},{"s":"R","d":"d","e":-10.55,"v":-4},{"s":"R","d":"d","e":-10.45,"v":-2},{"s":"R","d":"d","e":-10.35,"v":-2.5},{"s":"R","d":"d","e":-10.25,"v":-2.7},{"s":"R","d":"d","e":-10.15,"v":-1.5},{"s":"R","d":"d","e":-10.05,"v":0},
{"s":"R","d":"d","e":-3.15,"v":0},{"s":"R","d":"d","e":-3.05,"v":-4},{"s":"R","d":"d","e":-2.97,"v":-11},{"s":"R","d":"d","e":-2.9,"v":-17},{"s":"R","d":"d","e":-2.84,"v":-18.5},{"s":"R","d":"d","e":-2.76,"v":-16},{"s":"R","d":"d","e":-2.68,"v":-9},{"s":"R","d":"d","e":-2.6,"v":-3},{"s":"R","d":"d","e":-2.5,"v":0},
{"s":"R","d":"d","e":-0.35,"v":0},{"s":"R","d":"d","e":-0.25,"v":-1.5},{"s":"R","d":"d","e":-0.15,"v":-3},{"s":"R","d":"d","e":-0.05,"v":-4},{"s":"R","d":"d","e":0,"v":-4.5},
{"s":"B","d":"u","e":-14,"v":0},{"s":"B","d":"u","e":-13.5,"v":0},{"s":"B","d":"u","e":-13.4,"v":2.5},{"s":"B","d":"u","e":-13.32,"v":10},{"s":"B","d":"u","e":-13.25,"v":18},{"s":"B","d":"u","e":-13.18,"v":10},{"s":"B","d":"u","e":-13.1,"v":2.5},{"s":"B","d":"u","e":-13.0,"v":0},
{"s":"B","d":"u","e":-12.78,"v":0.8},{"s":"B","d":"u","e":-12.7,"v":5.5},{"s":"B","d":"u","e":-12.63,"v":15},{"s":"B","d":"u","e":-12.58,"v":24},{"s":"B","d":"u","e":-12.53,"v":28.5},{"s":"B","d":"u","e":-12.47,"v":24},{"s":"B","d":"u","e":-12.41,"v":14},{"s":"B","d":"u","e":-12.35,"v":7},{"s":"B","d":"u","e":-12.28,"v":12},{"s":"B","d":"u","e":-12.2,"v":25},{"s":"B","d":"u","e":-12.12,"v":30.5},{"s":"B","d":"u","e":-12.05,"v":31},{"s":"B","d":"u","e":-11.97,"v":30},{"s":"B","d":"u","e":-11.9,"v":28},{"s":"B","d":"u","e":-11.82,"v":20},{"s":"B","d":"u","e":-11.74,"v":14},{"s":"B","d":"u","e":-11.66,"v":24},{"s":"B","d":"u","e":-11.59,"v":40},{"s":"B","d":"u","e":-11.52,"v":51.7},{"s":"B","d":"u","e":-11.45,"v":40},{"s":"B","d":"u","e":-11.37,"v":17},{"s":"B","d":"u","e":-11.29,"v":5.5},{"s":"B","d":"u","e":-11.22,"v":11},{"s":"B","d":"u","e":-11.15,"v":23},{"s":"B","d":"u","e":-11.08,"v":29},{"s":"B","d":"u","e":-11.01,"v":24},{"s":"B","d":"u","e":-10.95,"v":18},{"s":"B","d":"u","e":-10.9,"v":17},{"s":"B","d":"u","e":-10.84,"v":21},{"s":"B","d":"u","e":-10.76,"v":23},{"s":"B","d":"u","e":-10.68,"v":25},{"s":"B","d":"u","e":-10.62,"v":30},{"s":"B","d":"u","e":-10.55,"v":43},{"s":"B","d":"u","e":-10.48,"v":78},{"s":"B","d":"u","e":-10.41,"v":130},{"s":"B","d":"u","e":-10.34,"v":161},{"s":"B","d":"u","e":-10.27,"v":128},{"s":"B","d":"u","e":-10.2,"v":75},{"s":"B","d":"u","e":-10.13,"v":32},{"s":"B","d":"u","e":-10.07,"v":9.5},{"s":"B","d":"u","e":-10.01,"v":1.8},{"s":"B","d":"u","e":-9.95,"v":0},
{"s":"B","d":"u","e":-9.86,"v":0.5},{"s":"B","d":"u","e":-9.77,"v":4},{"s":"B","d":"u","e":-9.7,"v":11.8},{"s":"B","d":"u","e":-9.63,"v":22.6},{"s":"B","d":"u","e":-9.56,"v":28.5},{"s":"B","d":"u","e":-9.49,"v":22.6},{"s":"B","d":"u","e":-9.42,"v":11.8},{"s":"B","d":"u","e":-9.35,"v":4},{"s":"B","d":"u","e":-9.26,"v":0.5},{"s":"B","d":"u","e":-9.2,"v":0},
{"s":"B","d":"u","e":-7.75,"v":0},{"s":"B","d":"u","e":-7.62,"v":1.5},{"s":"B","d":"u","e":-7.5,"v":2.7},{"s":"B","d":"u","e":-7.38,"v":1.5},{"s":"B","d":"u","e":-7.25,"v":0},{"s":"B","d":"u","e":-3.12,"v":0},{"s":"B","d":"u","e":-3.0,"v":2},{"s":"B","d":"u","e":-2.89,"v":3.5},{"s":"B","d":"u","e":-2.78,"v":2},{"s":"B","d":"u","e":-2.66,"v":0},{"s":"B","d":"u","e":-0.45,"v":0},{"s":"B","d":"u","e":-0.35,"v":1},{"s":"B","d":"u","e":-0.25,"v":1},{"s":"B","d":"u","e":-0.15,"v":0},{"s":"B","d":"u","e":0,"v":0},
{"s":"B","d":"d","e":-14,"v":0},{"s":"B","d":"d","e":-13.4,"v":0},{"s":"B","d":"d","e":-13.3,"v":-2.5},{"s":"B","d":"d","e":-13.2,"v":-10},{"s":"B","d":"d","e":-13.12,"v":-18},{"s":"B","d":"d","e":-13.04,"v":-10},{"s":"B","d":"d","e":-12.95,"v":-2.5},{"s":"B","d":"d","e":-12.85,"v":0},
{"s":"B","d":"d","e":-12.72,"v":0},{"s":"B","d":"d","e":-12.62,"v":-4},{"s":"B","d":"d","e":-12.52,"v":-13.5},{"s":"B","d":"d","e":-12.44,"v":-24},{"s":"B","d":"d","e":-12.37,"v":-28},{"s":"B","d":"d","e":-12.3,"v":-23},{"s":"B","d":"d","e":-12.2,"v":-12},{"s":"B","d":"d","e":-12.11,"v":-19},{"s":"B","d":"d","e":-12.04,"v":-27.5},{"s":"B","d":"d","e":-11.98,"v":-29.5},{"s":"B","d":"d","e":-11.92,"v":-26},{"s":"B","d":"d","e":-11.87,"v":-23},{"s":"B","d":"d","e":-11.81,"v":-27},{"s":"B","d":"d","e":-11.76,"v":-29.5},{"s":"B","d":"d","e":-11.71,"v":-27},{"s":"B","d":"d","e":-11.66,"v":-23},{"s":"B","d":"d","e":-11.58,"v":-26},{"s":"B","d":"d","e":-11.47,"v":-28.5},{"s":"B","d":"d","e":-11.39,"v":-26},{"s":"B","d":"d","e":-11.31,"v":-20},{"s":"B","d":"d","e":-11.23,"v":-24},{"s":"B","d":"d","e":-11.15,"v":-27},{"s":"B","d":"d","e":-11.07,"v":-26},{"s":"B","d":"d","e":-11.0,"v":-28},{"s":"B","d":"d","e":-10.92,"v":-30},{"s":"B","d":"d","e":-10.76,"v":-30},{"s":"B","d":"d","e":-10.6,"v":-30},{"s":"B","d":"d","e":-10.5,"v":-34},{"s":"B","d":"d","e":-10.42,"v":-43},{"s":"B","d":"d","e":-10.35,"v":-68},{"s":"B","d":"d","e":-10.3,"v":-108},{"s":"B","d":"d","e":-10.23,"v":-135.5},{"s":"B","d":"d","e":-10.16,"v":-103},{"s":"B","d":"d","e":-10.12,"v":-68},{"s":"B","d":"d","e":-10.05,"v":-29},{"s":"B","d":"d","e":-9.98,"v":-7.5},{"s":"B","d":"d","e":-9.92,"v":-1},{"s":"B","d":"d","e":-9.88,"v":0},
{"s":"B","d":"d","e":-9.65,"v":0},{"s":"B","d":"d","e":-9.56,"v":-4},{"s":"B","d":"d","e":-9.49,"v":-11.8},{"s":"B","d":"d","e":-9.42,"v":-23.5},{"s":"B","d":"d","e":-9.35,"v":-29.5},{"s":"B","d":"d","e":-9.28,"v":-23.5},{"s":"B","d":"d","e":-9.21,"v":-11.8},{"s":"B","d":"d","e":-9.14,"v":-4},{"s":"B","d":"d","e":-9.05,"v":0},
{"s":"B","d":"d","e":-3.1,"v":0},{"s":"B","d":"d","e":-2.98,"v":-1.5},{"s":"B","d":"d","e":-2.85,"v":-3},{"s":"B","d":"d","e":-2.72,"v":-1.5},{"s":"B","d":"d","e":-2.6,"v":0},{"s":"B","d":"d","e":0,"v":0}
]
},
"vconcat": [
{
 "width": 593, "height": 370,
 "resolve": {"axis": {"x": "independent"}},
 "layer": [
  {
   "data": {"name": "a"},
   "mark": {"type": "line", "interpolate": "monotone", "strokeWidth": 2},
   "encoding": {
     "x": {"field": "e", "type": "quantitative", "scale": {"domain": [-14, 0], "nice": false, "zero": false},
           "axis": {"orient": "bottom", "values": [-13,-12,-11,-10,-9,-8,-7,-6,-5,-4,-3,-2,-1], "labels": false, "title": null, "tickSize": {"condition": {"test": "datum.value % 5 === 0", "value": -8.5}, "value": -4}}},
     "y": {"field": "v", "type": "quantitative", "scale": {"domain": [-185, 185], "nice": false, "zero": false}, "axis": null},
     "color": {"field": "s", "type": "nominal", "scale": {"domain": ["T","G","R","B"], "range": ["#888888","#00dd00","#ff0000","#0000ff"]}, "legend": null},
     "strokeDash": {"field": "s", "type": "nominal", "scale": {"domain": ["T","G","R","B"], "range": [[1,0],[2,2],[2,2],[2,2]]}, "legend": null},
     "detail": {"field": "d"}
   }
  },
  {
   "data": {"values": [{}]},
   "mark": {"type": "rule", "color": "black", "strokeWidth": 2},
   "encoding": {"y": {"datum": 0, "type": "quantitative", "axis": null}}
  },
  {
   "data": {"name": "ticks"},
   "transform": [{"filter": "datum.e % 5 !== 0"}],
   "mark": {"type": "rule", "color": "black", "strokeWidth": 2},
   "encoding": {
     "x": {"field": "e", "type": "quantitative", "axis": {"orient": "top", "values": [-13,-12,-11,-10,-9,-8,-7,-6,-5,-4,-3,-2,-1], "labels": false, "title": null, "tickSize": {"condition": {"test": "datum.value % 5 === 0", "value": -8.5}, "value": -4}}},
     "y": {"datum": -4.5, "type": "quantitative", "axis": null},
     "y2": {"datum": 4.5}
   }
  },
  {
   "data": {"name": "ticks"},
   "transform": [{"filter": "datum.e % 5 === 0"}],
   "mark": {"type": "rule", "color": "black", "strokeWidth": 2},
   "encoding": {
     "x": {"field": "e", "type": "quantitative", "axis": null},
     "y": {"datum": -9, "type": "quantitative", "axis": null},
     "y2": {"datum": 9}
   }
  },
  {
   "data": {"values": [{}]},
   "mark": {"type": "rule", "color": "#ff00ff", "strokeWidth": 1.5, "strokeDash": [7, 4]},
   "encoding": {"x": {"datum": -4.9, "type": "quantitative", "axis": null}}
  },
  {
   "data": {"values": [{}]},
   "mark": {"type": "text", "text": "(a) LDA semicore", "align": "left", "baseline": "middle", "fontSize": 15, "font": "Liberation Sans", "color": "black"},
   "encoding": {"x": {"datum": -4.24, "type": "quantitative", "axis": null}, "y": {"datum": 135.3, "type": "quantitative", "axis": null}}
  },
  {
   "data": {"values": [{}]},
   "mark": {"type": "text", "text": "DOS (arb. units)", "angle": 270, "align": "center", "baseline": "middle", "fontSize": 20, "font": "Liberation Sans", "color": "black"},
   "encoding": {"x": {"datum": -14.54, "type": "quantitative", "axis": null}, "y": {"datum": -186, "type": "quantitative", "axis": null}}
  }
 ]
},
{
 "width": 593, "height": 370,
 "resolve": {"axis": {"x": "independent"}},
 "layer": [
  {
   "data": {"name": "b"},
   "mark": {"type": "line", "interpolate": "monotone", "strokeWidth": 2},
   "encoding": {
     "x": {"field": "e", "type": "quantitative", "scale": {"domain": [-14, 0], "nice": false, "zero": false},
           "axis": {"orient": "bottom", "values": [-13,-12,-11,-10,-9,-8,-7,-6,-5,-4,-3,-2,-1,0], "labelExpr": "datum.value % 5 === 0 ? '' + datum.value : ''", "labelFlush": false, "labelFontSize": 19.5, "labelPadding": 21, "title": "Energy (eV)", "titleFontSize": 20.5, "titlePadding": 8, "tickSize": {"condition": {"test": "datum.value % 5 === 0", "value": -8.5}, "value": -4}}},
     "y": {"field": "v", "type": "quantitative", "scale": {"domain": [-185, 185], "nice": false, "zero": false}, "axis": null},
     "color": {"field": "s", "type": "nominal", "scale": {"domain": ["T","G","R","B"], "range": ["#888888","#00dd00","#ff0000","#0000ff"]}, "legend": null},
     "strokeDash": {"field": "s", "type": "nominal", "scale": {"domain": ["T","G","R","B"], "range": [[1,0],[2,2],[2,2],[2,2]]}, "legend": null},
     "detail": {"field": "d"}
   }
  },
  {
   "data": {"values": [{}]},
   "mark": {"type": "rule", "color": "black", "strokeWidth": 2},
   "encoding": {"y": {"datum": 0, "type": "quantitative", "axis": null}}
  },
  {
   "data": {"name": "ticks"},
   "transform": [{"filter": "datum.e % 5 !== 0"}],
   "mark": {"type": "rule", "color": "black", "strokeWidth": 2},
   "encoding": {
     "x": {"field": "e", "type": "quantitative", "axis": {"orient": "top", "values": [-13,-12,-11,-10,-9,-8,-7,-6,-5,-4,-3,-2,-1], "labels": false, "title": null, "tickSize": {"condition": {"test": "datum.value % 5 === 0", "value": -8.5}, "value": -4}}},
     "y": {"datum": -4.5, "type": "quantitative", "axis": null},
     "y2": {"datum": 4.5}
   }
  },
  {
   "data": {"name": "ticks"},
   "transform": [{"filter": "datum.e % 5 === 0"}],
   "mark": {"type": "rule", "color": "black", "strokeWidth": 2},
   "encoding": {
     "x": {"field": "e", "type": "quantitative", "axis": null},
     "y": {"datum": -9, "type": "quantitative", "axis": null},
     "y2": {"datum": 9}
   }
  },
  {
   "data": {"values": [{}]},
   "mark": {"type": "rule", "color": "#ff00ff", "strokeWidth": 1.5, "strokeDash": [7, 4]},
   "encoding": {"x": {"datum": -4.9, "type": "quantitative", "axis": null}}
  },
  {
   "data": {"values": [{}]},
   "mark": {"type": "text", "text": "(b) GW semicore", "align": "left", "baseline": "middle", "fontSize": 15, "font": "Liberation Sans", "color": "black"},
   "encoding": {"x": {"datum": -4.22, "type": "quantitative", "axis": null}, "y": {"datum": 136.5, "type": "quantitative", "axis": null}}
  }
 ]
}
]
}
